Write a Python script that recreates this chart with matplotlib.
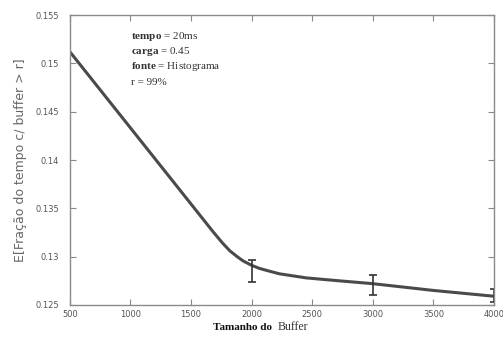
import numpy as np
import matplotlib
matplotlib.use("Agg")
import matplotlib.pyplot as plt

plt.rcParams['mathtext.fontset'] = 'custom'
plt.rcParams['mathtext.rm'] = 'Liberation Serif'
plt.rcParams['mathtext.bf'] = 'Liberation Serif:bold'

# curve
buffer_size = [500, 750, 1000, 1250, 1500, 1600, 1680, 1760, 1820, 1880, 1930, 2000, 2060,
               2130, 2230, 2450, 2700, 3000, 3500, 4000]
frac_tempo = [0.1512, 0.14726, 0.14332, 0.13938, 0.13544, 0.13386, 0.1326, 0.1314, 0.1306,
              0.1300, 0.12955, 0.1291, 0.1288, 0.12855, 0.12822, 0.1278, 0.12752, 0.1272,
              0.1265, 0.1259]

# error bars (interval ends)
err_x = [2000, 3000, 4000]
err_lo = [0.1274, 0.1260, 0.1253]
err_hi = [0.1297, 0.1281, 0.1266]

x_ticks = [500, 1000, 1500, 2000, 2500, 3000, 3500, 4000]
y_ticks = [0.125, 0.13, 0.135, 0.14, 0.145, 0.15, 0.155]
y_tick_labels = ['0.125', '0.13', '0.135', '0.14', '0.145', '0.15', '0.155']

info_lines = [r'$\mathbf{tempo}$ = 20ms', r'$\mathbf{carga}$ = 0.45',
              r'$\mathbf{fonte}$ = Histograma', r'r = 99%']

fig = plt.figure(figsize=(5.03, 3.43), dpi=100)
ax = fig.add_axes([0.139, 0.111, 0.843, 0.845])

line_color = '#4a4a4a'
frame_color = '#8a8a8a'

ax.plot(buffer_size, frac_tempo, color=line_color, linewidth=2.2,
        solid_capstyle='round', solid_joinstyle='round')

err_mid = [(lo + hi) / 2 for lo, hi in zip(err_lo, err_hi)]
err_half = [(hi - lo) / 2 for lo, hi in zip(err_lo, err_hi)]
ax.errorbar(err_x, err_mid, yerr=err_half, fmt='none', ecolor='#333333',
            elinewidth=1.2, capsize=3, capthick=1.2)

ax.set_xlim(500, 4000)
ax.set_ylim(0.125, 0.155)
ax.set_xticks(x_ticks)
ax.set_yticks(y_ticks)
ax.set_yticklabels(y_tick_labels)

for s in ax.spines.values():
    s.set_color(frame_color)
    s.set_linewidth(1.0)

ax.tick_params(direction='in', length=4, width=0.8, color=frame_color,
               top=True, right=True, labelsize=6, labelcolor='#555555')
ax.tick_params(axis='y', pad=8)
ax.tick_params(axis='x', pad=4)

ax.set_ylabel('E[Fração do tempo c/ buffer > r]', fontsize=9, color='#666666', labelpad=6)

for i, t in enumerate(info_lines):
    ax.text(0.143, 0.925 - i * 0.052, t, transform=ax.transAxes, fontsize=8,
            family='Liberation Serif', color='#333333', va='center')

fig.text(0.54, 0.046, 'Tamanho do', fontsize=8, family='Liberation Serif',
         weight='bold', ha='right', va='center', color='#111111')
fig.text(0.552, 0.046, 'Buffer', fontsize=8.5, family='Liberation Serif',
         ha='left', va='center', color='#333333')

fig.savefig('out.png', dpi=100, facecolor='white')
